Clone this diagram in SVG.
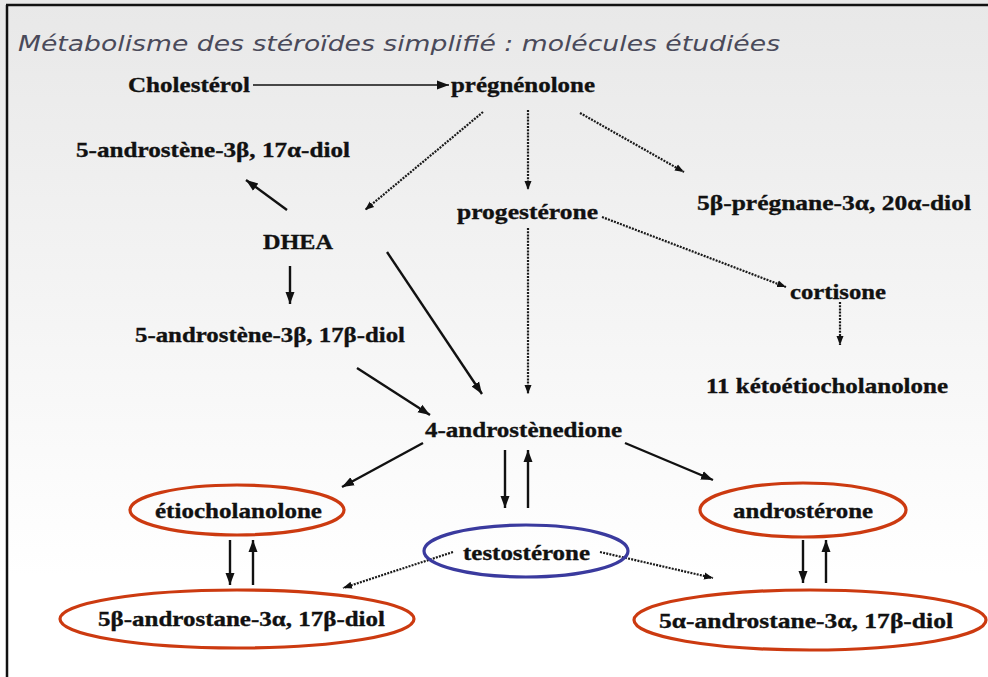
<svg xmlns="http://www.w3.org/2000/svg" width="988" height="677" viewBox="0 0 988 677">
<defs>
<linearGradient id="bg" x1="0" y1="0" x2="0" y2="1">
<stop offset="0" stop-color="#e8e8e8"/>
<stop offset="0.85" stop-color="#ffffff"/>
<stop offset="1" stop-color="#ffffff"/>
</linearGradient>
<marker id="ah" markerUnits="userSpaceOnUse" markerWidth="13" markerHeight="13" viewBox="0 0 13 13" refX="12" refY="6.5" orient="auto">
<path d="M0,2 L12,6.5 L0,11 Z" fill="#111"/>
</marker>
<marker id="ahd" markerUnits="userSpaceOnUse" markerWidth="10" markerHeight="10" viewBox="0 0 10 10" refX="9" refY="5" orient="auto">
<path d="M0,1.5 L9,5 L0,8.5 Z" fill="#111"/>
</marker>
</defs>
<style>
.t{font-family:"Liberation Serif","Times New Roman",serif;font-weight:bold;font-size:22px;fill:#111;stroke:#111;stroke-width:0.35}
.title{font-family:"DejaVu Sans",Verdana,sans-serif;font-style:italic;font-size:22px;fill:#4a4a5a}
.s{stroke:#111;stroke-width:2.4;fill:none;marker-end:url(#ah)}
.thin{stroke-width:1.6}
.d{stroke:#1a1a1a;stroke-width:2.2;stroke-dasharray:2 1.2;fill:none;marker-end:url(#ahd)}
.red{fill:none;stroke:#cc3a10;stroke-width:3.2}
.blue{fill:none;stroke:#3a3a9e;stroke-width:3.2}
</style>
<rect x="0" y="0" width="988" height="677" fill="url(#bg)"/>
<line x1="6" y1="5" x2="988" y2="5" stroke="#111" stroke-width="2.5"/>
<line x1="7" y1="5" x2="7" y2="677" stroke="#111" stroke-width="2.5"/>
<text class="title" x="18" y="51" textLength="762" lengthAdjust="spacingAndGlyphs">Métabolisme des stéroïdes simplifié : molécules étudiées</text>

<g id="connectors">
<line class="s thin" x1="253" y1="85" x2="449" y2="85"/>
<line class="s" x1="287" y1="210" x2="246" y2="180"/>
<line class="s" x1="290" y1="266" x2="290" y2="304"/>
<line class="s" x1="387" y1="252" x2="482" y2="394"/>
<line class="s" x1="357" y1="368" x2="430" y2="415"/>
<line class="s" x1="423" y1="443" x2="342" y2="487"/>
<line class="s" x1="625" y1="443" x2="713" y2="480"/>
<line class="s" x1="505" y1="450" x2="505" y2="508"/>
<line class="s" x1="528" y1="508" x2="528" y2="450"/>
<line class="s" x1="230" y1="540" x2="230" y2="585"/>
<line class="s" x1="253" y1="585" x2="253" y2="540"/>
<line class="s" x1="803" y1="540" x2="803" y2="583"/>
<line class="s" x1="826" y1="583" x2="826" y2="540"/>
<line class="d" x1="483" y1="112" x2="365" y2="210"/>
<line class="d" x1="528" y1="110" x2="528" y2="190"/>
<line class="d" x1="580" y1="113" x2="684" y2="172"/>
<line class="d" x1="528" y1="228" x2="528" y2="394"/>
<line class="d" x1="602" y1="217" x2="786" y2="287"/>
<line class="d" x1="840" y1="302" x2="840" y2="345"/>
<line class="d" x1="453" y1="552" x2="343" y2="588"/>
<line class="d" x1="600" y1="552" x2="713" y2="578"/>
</g>

<g id="cholesterol"><text class="t" x="128" y="92" textLength="122" lengthAdjust="spacingAndGlyphs">Cholestérol</text></g>
<g id="pregnenolone"><text class="t" x="451" y="92" textLength="144" lengthAdjust="spacingAndGlyphs">prégnénolone</text></g>
<g id="androstene-17a"><text class="t" x="76" y="157" textLength="274" lengthAdjust="spacingAndGlyphs">5-androstène-3β, 17α-diol</text></g>
<g id="dhea"><text class="t" x="263" y="249" textLength="70" lengthAdjust="spacingAndGlyphs">DHEA</text></g>
<g id="progesterone"><text class="t" x="457" y="219" textLength="141" lengthAdjust="spacingAndGlyphs">progestérone</text></g>
<g id="pregnane"><text class="t" x="697" y="210" textLength="274" lengthAdjust="spacingAndGlyphs">5β-prégnane-3α, 20α-diol</text></g>
<g id="cortisone"><text class="t" x="790" y="299" textLength="96" lengthAdjust="spacingAndGlyphs">cortisone</text></g>
<g id="keto"><text class="t" x="706" y="393" textLength="242" lengthAdjust="spacingAndGlyphs">11 kétoétiocholanolone</text></g>
<g id="androstene-17b"><text class="t" x="135" y="342" textLength="270" lengthAdjust="spacingAndGlyphs">5-androstène-3β, 17β-diol</text></g>
<g id="androstenedione"><text class="t" x="425" y="437" textLength="197" lengthAdjust="spacingAndGlyphs">4-androstènedione</text></g>
<g id="etiocholanolone"><ellipse class="red" cx="237" cy="510" rx="107" ry="25"/><text class="t" x="155" y="518" textLength="167" lengthAdjust="spacingAndGlyphs">étiocholanolone</text></g>
<g id="testosterone"><ellipse class="blue" cx="526" cy="551" rx="102" ry="26"/><text class="t" x="463" y="560" textLength="127" lengthAdjust="spacingAndGlyphs">testostérone</text></g>
<g id="androsterone"><ellipse class="red" cx="803" cy="510" rx="103" ry="27"/><text class="t" x="733" y="518" textLength="140" lengthAdjust="spacingAndGlyphs">androstérone</text></g>
<g id="androstane-5b"><ellipse class="red" cx="237" cy="619" rx="177" ry="29"/><text class="t" x="98" y="626" textLength="287" lengthAdjust="spacingAndGlyphs">5β-androstane-3α, 17β-diol</text></g>
<g id="androstane-5a"><ellipse class="red" cx="810" cy="620" rx="176" ry="30"/><text class="t" x="659" y="628" textLength="294" lengthAdjust="spacingAndGlyphs">5α-androstane-3α, 17β-diol</text></g>
</svg>
